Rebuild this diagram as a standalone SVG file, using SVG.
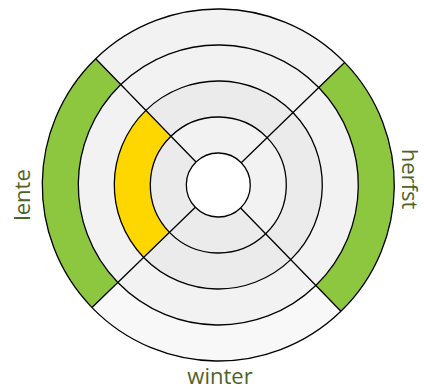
<svg xmlns="http://www.w3.org/2000/svg" width="424" height="389" viewBox="0 0 424 389">
<style>
.ln{fill:none;stroke:#000;stroke-width:1.3}
.lbl{font-family:"Open Sans","DejaVu Sans",sans-serif;font-size:22px;fill:#4f6228;text-anchor:middle}
.g1{fill:#f2f2f2}.g2{fill:#ebebeb}.g0{fill:#f8f8f8}.gr{fill:#8dc63f}.ye{fill:#ffd700}
</style>
<rect width="424" height="389" fill="#fff"/>
<g transform="translate(218.3,185) rotate(0.85)">
<g id="ring4">
<path class="gr" d="M124.451,-124.451 A176,176 0 0 1 124.451,124.451 L98.995,98.995 A140,140 0 0 0 98.995,-98.995 Z"/>
<path class="g0" d="M124.451,124.451 A176,176 0 0 1 -124.451,124.451 L-98.995,98.995 A140,140 0 0 0 98.995,98.995 Z"/>
<path class="gr" d="M-124.451,124.451 A176,176 0 0 1 -124.451,-124.451 L-98.995,-98.995 A140,140 0 0 0 -98.995,98.995 Z"/>
<path class="g1" d="M-124.451,-124.451 A176,176 0 0 1 124.451,-124.451 L98.995,-98.995 A140,140 0 0 0 -98.995,-98.995 Z"/>
</g>
<g id="ring3">
<circle class="g1" r="140"/>
</g>
<g id="ring2">
<circle class="g2" r="104"/>
<path class="ye" d="M-73.539,73.539 A104,104 0 0 1 -73.539,-73.539 L-48.083,-48.083 A68,68 0 0 0 -48.083,48.083 Z"/>
</g>
<g id="ring1">
<path class="g1" d="M48.083,-48.083 A68,68 0 0 1 48.083,48.083 L22.627,22.627 A32,32 0 0 0 22.627,-22.627 Z"/>
<path class="g2" d="M48.083,48.083 A68,68 0 0 1 -48.083,48.083 L-22.627,22.627 A32,32 0 0 0 22.627,22.627 Z"/>
<path class="g2" d="M-48.083,48.083 A68,68 0 0 1 -48.083,-48.083 L-22.627,-22.627 A32,32 0 0 0 -22.627,22.627 Z"/>
<path class="g1" d="M-48.083,-48.083 A68,68 0 0 1 48.083,-48.083 L22.627,-22.627 A32,32 0 0 0 -22.627,-22.627 Z"/>
</g>
<g id="connectors">
<path class="ln" d="M22.627,-22.627 L124.451,-124.451 M22.627,22.627 L124.451,124.451 M-22.627,22.627 L-124.451,124.451 M-22.627,-22.627 L-124.451,-124.451"/>
<circle class="ln" r="176"/>
<circle class="ln" r="140"/>
<circle class="ln" r="104"/>
<circle class="ln" r="68"/>
</g>
<g id="center">
<circle r="32" fill="#fff" stroke="#000" stroke-width="1.3"/>
</g>
</g>
<g id="labels">
<text class="lbl" transform="translate(29.5,195) rotate(-90)">lente</text>
<text class="lbl" transform="translate(401.5,179) rotate(90)">herfst</text>
<text class="lbl" x="220" y="384">winter</text>
</g>
</svg>
